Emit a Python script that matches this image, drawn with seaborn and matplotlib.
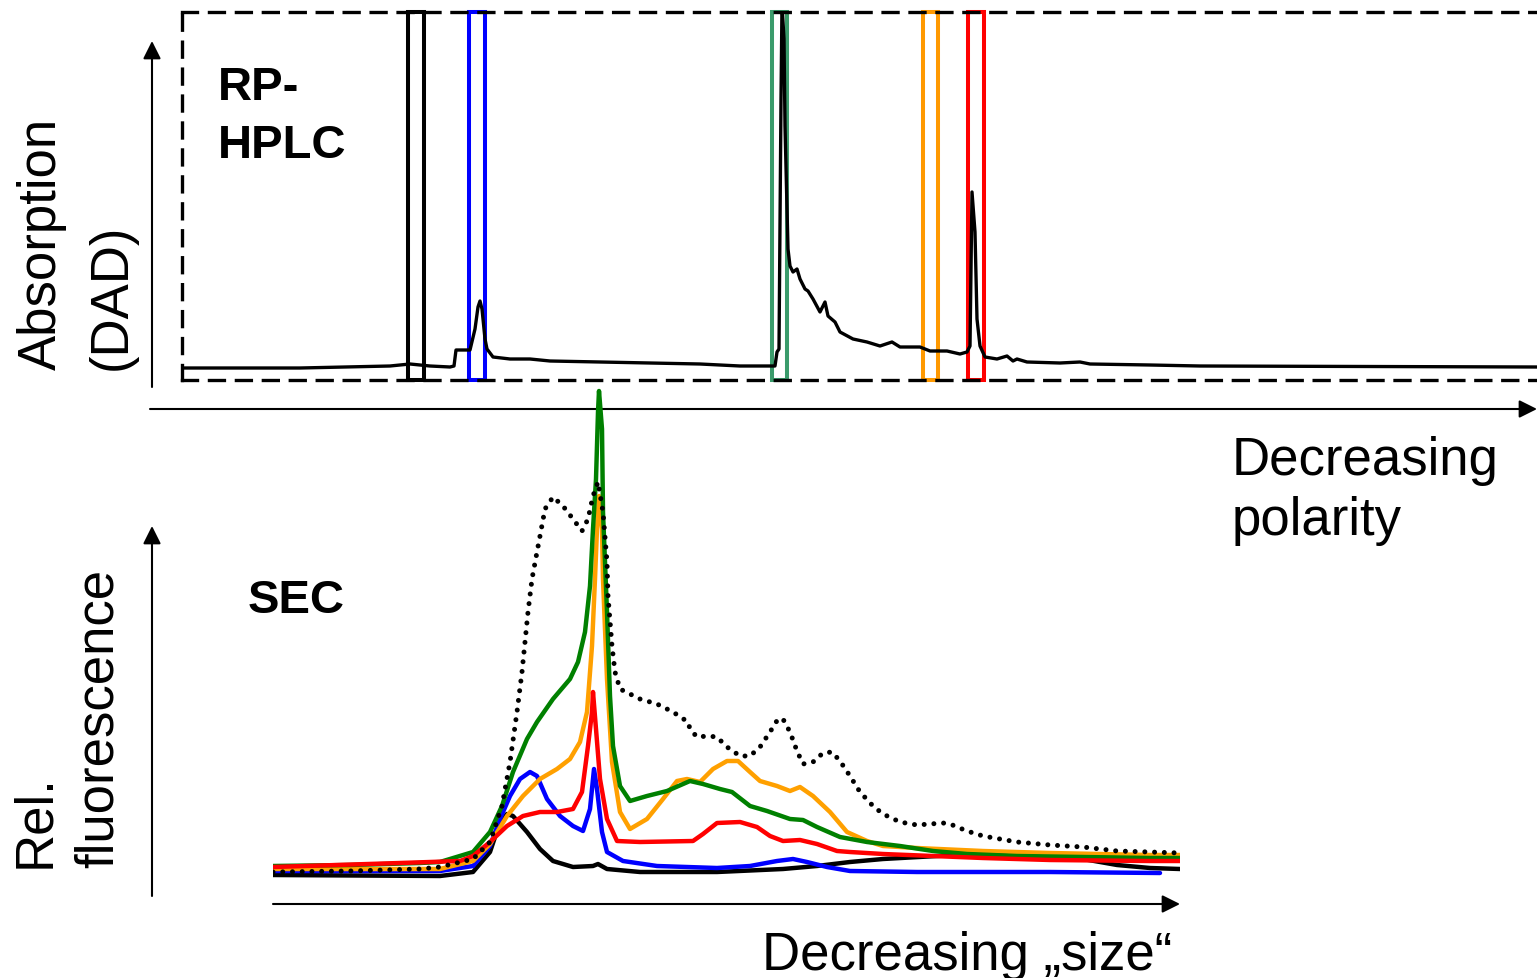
import matplotlib
matplotlib.use("Agg")
import matplotlib.pyplot as plt
import seaborn as sns
import numpy as np
import pandas as pd

# ---------------- data (arbitrary units) ----------------
# RP-HPLC trace: retention (a.u.) and absorption (a.u.)
rp_time = [0, 118, 208, 218, 228, 248, 268, 272, 274, 288, 293, 296, 298, 300, 303, 305, 311,
           328, 348, 368, 418, 468, 518, 558, 593, 595, 597, 599, 600, 602, 603, 606, 608, 611,
           615, 618, 623, 626, 631, 638, 643, 646, 653, 658, 671, 685, 698, 710, 718, 738, 748,
           765, 778, 785, 788, 790, 793, 795, 798, 803, 815, 825, 831, 835, 845, 878, 898, 908,
           968, 1018, 1355]
rp_abs = [12, 12, 14, 15, 16, 14, 13, 14, 30, 30, 51, 73, 79, 71, 41, 31, 23,
          21, 21, 19, 18, 17, 16, 14, 14, 28, 31, 281, 376, 341, 254, 131, 114, 108,
          111, 101, 91, 89, 81, 68, 78, 64, 58, 48, 41, 38, 34, 38, 33, 33, 29,
          29, 26, 28, 34, 188, 148, 61, 34, 23, 21, 24, 19, 21, 18, 17, 18, 16,
          15, 14, 13]

# collected fractions (start, end) in the same retention units
fraction_names = ["F1", "F2", "F3", "F4", "F5"]
fraction_start = [226, 287, 590, 741, 786]
fraction_end = [242, 303, 605, 756, 802]
fraction_colors = ["#000000", "#0000FF", "#3A9B6B", "#FF9900", "#FF0000"]

# SEC traces: elution (a.u.) and relative fluorescence (a.u.)
sec_all_x = [0, 77, 147, 167, 200, 217, 229, 237, 244, 249, 255, 259, 264, 267, 272, 280, 290, 300,
             309, 315, 320, 325, 330, 334, 335, 339, 342, 347, 367, 384, 400, 415, 417, 424, 435,
             444, 454, 467, 477, 487, 497, 505, 510, 517, 524, 530, 540, 550, 559, 567, 577, 587,
             600, 610, 627, 644, 670, 677, 694, 710, 727, 744, 777, 810, 844, 877, 907]
sec_all_y = [32, 33, 35, 37, 45, 62, 98, 142, 192, 232, 292, 325, 352, 368, 395, 407, 398, 385,
             373, 385, 408, 422, 392, 342, 308, 258, 232, 215, 205, 200, 192, 182, 175, 167, 168,
             167, 157, 148, 148, 157, 172, 185, 185, 172, 153, 140, 142, 151, 152, 143, 128, 112,
             98, 90, 82, 79, 81, 80, 73, 68, 65, 62, 59, 57, 53, 52, 51]

sec_green_x = [0, 77, 147, 167, 200, 217, 229, 240, 254, 264, 280, 297, 305, 312, 317, 320, 323,
               325, 326, 329, 330, 334, 337, 340, 347, 357, 374, 394, 417, 430, 447, 459, 477, 494,
               517, 530, 544, 567, 594, 627, 660, 694, 744, 810, 877, 907]
sec_green_y = [38, 39, 41, 42, 52, 72, 98, 132, 165, 182, 205, 225, 242, 272, 318, 375, 425,
               492, 513, 475, 392, 292, 208, 158, 118, 103, 108, 113, 123, 120, 115, 112, 98, 93,
               85, 84, 77, 67, 62, 58, 53, 50, 48, 47, 46, 46]

sec_orange_x = [0, 77, 167, 200, 217, 234, 250, 267, 284, 297, 307, 314, 319, 322, 324, 326, 329,
                330, 334, 339, 347, 357, 374, 390, 404, 414, 427, 440, 454, 465, 477, 487, 504,
                517, 527, 540, 557, 574, 594, 610, 644, 710, 777, 877, 907]
sec_orange_y = [35, 35, 35, 43, 60, 88, 108, 125, 135, 145, 162, 192, 258, 325, 375, 408, 375,
                325, 225, 142, 92, 75, 85, 105, 123, 125, 122, 135, 143, 143, 132, 123, 118,
                113, 117, 108, 92, 72, 63, 58, 56, 53, 51, 49, 49]

sec_red_x = [0, 127, 187, 200, 217, 234, 250, 267, 284, 300, 309, 315, 319, 320, 323, 327, 334,
             344, 367, 420, 430, 444, 467, 484, 497, 510, 527, 544, 564, 577, 610, 660, 710, 777,
             877, 907]
sec_red_y = [37, 41, 43, 48, 62, 78, 88, 92, 92, 95, 112, 158, 192, 212, 175, 125, 85,
             63, 62, 63, 70, 81, 82, 77, 68, 63, 64, 60, 53, 52, 50, 48, 46, 44,
             43, 43]

sec_blue_x = [0, 167, 200, 217, 227, 237, 247, 257, 264, 274, 287, 300, 310, 317, 321, 324, 329,
              334, 350, 384, 444, 477, 504, 520, 534, 554, 577, 644, 777, 887]
sec_blue_y = [33, 33, 38, 58, 85, 108, 125, 132, 128, 105, 88, 78, 73, 95, 135, 115, 72,
              52, 43, 38, 36, 38, 43, 45, 42, 37, 33, 32, 32, 31]

sec_black_x = [0, 167, 200, 217, 227, 234, 240, 254, 267, 280, 300, 320, 325, 334, 367, 444, 510,
               544, 577, 610, 664, 710, 744, 777, 810, 844, 877, 907]
sec_black_y = [29, 28, 32, 52, 82, 90, 88, 72, 55, 43, 37, 38, 40, 35, 32, 32, 35,
               38, 42, 45, 48, 50, 51, 49, 45, 39, 36, 35]

# ---------------- figure ----------------
sns.set_style("white")
plt.rcParams["font.family"] = ["Liberation Sans", "DejaVu Sans"]
plt.rcParams["text.color"] = "black"
plt.rcParams["lines.scale_dashes"] = False
plt.rcParams["lines.solid_joinstyle"] = "round"
plt.rcParams["lines.solid_capstyle"] = "round"

W, H = 1537, 979
fig = plt.figure(figsize=(W / 100, H / 100), dpi=100)
fig.patch.set_facecolor("white")

# background overlay axes (pixel frame) for arrows & labels
ov = fig.add_axes([0, 0, 1, 1], zorder=0)
ov.set_xlim(0, W)
ov.set_ylim(H, 0)
ov.axis("off")

# ---- top: RP-HPLC ----
axt = fig.add_axes([182 / W, (H - 381) / H, (W - 182) / W, 368 / H], zorder=2)
axt.patch.set_alpha(0)
axt.set_xlim(0, W - 182)
axt.set_ylim(0, 368)
axt.set_xticks([])
axt.set_yticks([])
dash = (0, (10.8, 8.6))
for side in ["left", "top", "bottom"]:
    axt.spines[side].set_visible(True)
    axt.spines[side].set_linestyle(dash)
    axt.spines[side].set_linewidth(2.4)
    axt.spines[side].set_color("black")
axt.spines["right"].set_visible(False)

for s, e, c in zip(fraction_start, fraction_end, fraction_colors):
    axt.axvspan(s, e, ymin=0, ymax=1, fill=False, edgecolor=c, lw=2.9, clip_on=False, zorder=2)

rp_df = pd.DataFrame({"t": rp_time, "a": rp_abs})
sns.lineplot(data=rp_df, x="t", y="a", ax=axt, color="black", lw=2.4, estimator=None, zorder=3)
axt.set_xlabel("")
axt.set_ylabel("")

# ---- bottom: SEC ----
axb = fig.add_axes([273 / W, (H - 905) / H, 907 / W, 520 / H], zorder=3)
axb.patch.set_alpha(0)
axb.set_xlim(0, 907)
axb.set_ylim(0, 520)
axb.set_xticks([])
axb.set_yticks([])
for sp in axb.spines.values():
    sp.set_visible(False)

series = [
    (sec_black_x, sec_black_y, "#000000"),
    (sec_blue_x, sec_blue_y, "#0000FF"),
    (sec_orange_x, sec_orange_y, "#FFA000"),
    (sec_green_x, sec_green_y, "#008000"),
    (sec_red_x, sec_red_y, "#FF0000"),
]
for xs, ys, c in series:
    sns.lineplot(x=xs, y=ys, ax=axb, color=c, lw=3.2, estimator=None)
sns.lineplot(x=sec_all_x, y=sec_all_y, ax=axb, color="black", lw=3.6, estimator=None,
             linestyle=(0, (0.01, 7.0)), dash_capstyle="round")
axb.set_xlabel("")
axb.set_ylabel("")

# ---- arrows ----
ap = dict(arrowstyle="-|>", lw=1.5, color="black", mutation_scale=27, shrinkA=0, shrinkB=0)
ov.annotate("", xy=(152, 42), xytext=(152, 388), arrowprops=ap)
ov.annotate("", xy=(1537, 410), xytext=(150, 410), arrowprops=ap)
ov.annotate("", xy=(152, 527), xytext=(152, 897), arrowprops=ap)
ov.annotate("", xy=(1180, 905), xytext=(273, 905), arrowprops=ap)

# ---- labels ----
fs = 38
kw = dict(color="black")
ov.text(56, 370, "Absorption", rotation=90, rotation_mode="anchor", ha="left", va="baseline", fontsize=fs, **kw)
ov.text(126, 370, "(DAD)", rotation=90, rotation_mode="anchor", ha="left", va="baseline", fontsize=fs, **kw)
ov.text(49, 868, "Rel.", rotation=90, rotation_mode="anchor", ha="left", va="baseline", fontsize=fs, **kw)
ov.text(113, 868, "fluorescence", rotation=90, rotation_mode="anchor", ha="left", va="baseline", fontsize=fs, **kw)
ov.text(1232, 475, "Decreasing", ha="left", va="baseline", fontsize=fs, **kw)
ov.text(1232, 535, "polarity", ha="left", va="baseline", fontsize=fs, **kw)
ov.text(762, 970, "Decreasing \u201esize\u201c", ha="left", va="baseline", fontsize=fs, **kw)
ov.text(218, 100, "RP-", ha="left", va="baseline", fontsize=34, fontweight="bold", **kw)
ov.text(218, 158, "HPLC", ha="left", va="baseline", fontsize=34, fontweight="bold", **kw)
ov.text(248, 613, "SEC", ha="left", va="baseline", fontsize=34, fontweight="bold", **kw)

fig.savefig("out.png", dpi=100, facecolor="white")
